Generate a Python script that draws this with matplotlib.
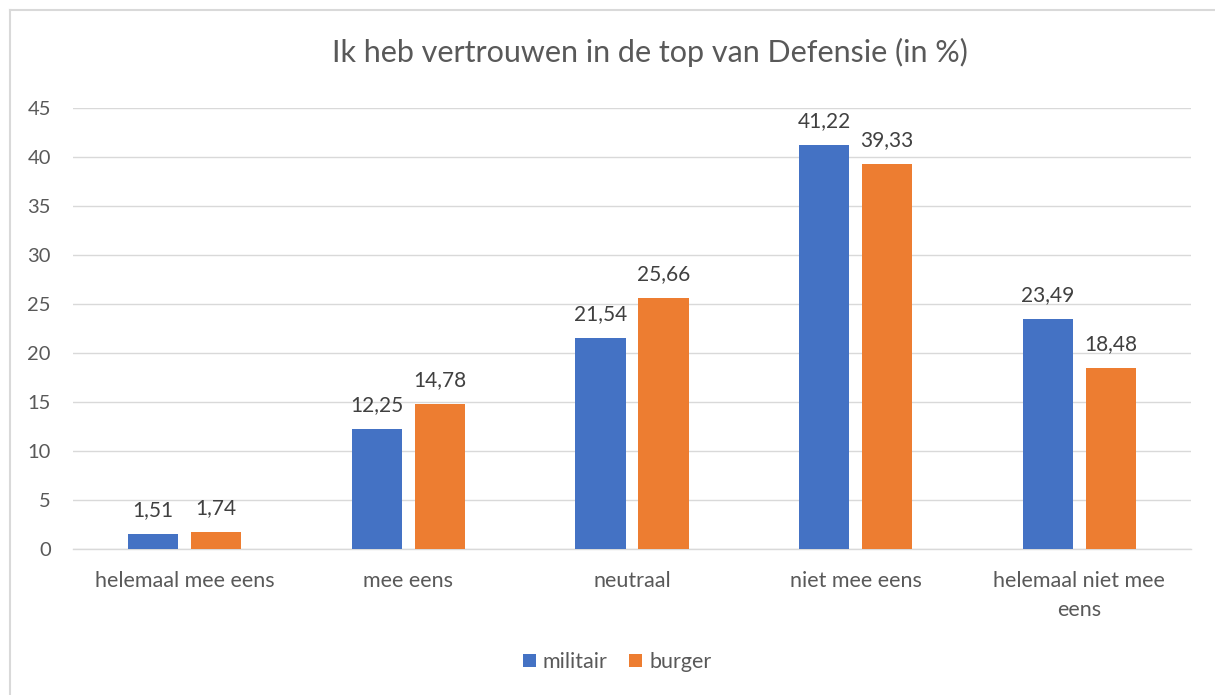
import matplotlib
matplotlib.use("Agg")
import matplotlib.pyplot as plt
from matplotlib.lines import Line2D
import numpy as np

categories = ["helemaal mee eens", "mee eens", "neutraal", "niet mee eens", "helemaal niet mee\neens"]
militair = [1.51, 12.25, 21.54, 41.22, 23.49]
burger = [1.74, 14.78, 25.66, 39.33, 18.48]
series_names = ["militair", "burger"]
yticks = [0, 5, 10, 15, 20, 25, 30, 35, 40, 45]

plt.rcParams['font.family'] = ['Lato', 'DejaVu Sans']

fig = plt.figure(figsize=(12.15, 6.95), dpi=100)
W, H = 1215, 695
ax = fig.add_axes([73 / W, 1 - 549 / H, (1191 - 73) / W, (549 - 108) / H])

x = np.arange(len(categories))
bw = 0.224
off = 0.141
b1 = ax.bar(x - off, militair, bw, color="#4472C4", label=series_names[0], zorder=3)
b2 = ax.bar(x + off, burger, bw, color="#ED7D31", label=series_names[1], zorder=3)

def fmt(v):
    return f"{v:.2f}".replace(".", ",")

for bars, vals in ((b1, militair), (b2, burger)):
    for r, v in zip(bars, vals):
        ax.annotate(fmt(v), (r.get_x() + r.get_width() / 2, v), xytext=(0, 10),
                    textcoords="offset points", ha="center", va="bottom",
                    fontsize=15, color="#404040")

ax.set_xlim(-0.5, len(categories) - 0.5)
ax.set_ylim(0, 45)
ax.set_yticks(yticks)
ax.set_yticklabels([str(t) for t in yticks], fontsize=14.5, color="#595959")
ax.set_xticks(x)
ax.set_xticklabels(categories, fontsize=15.5, color="#595959", linespacing=1.55)
ax.tick_params(axis="x", length=0, pad=16)
ax.tick_params(axis="y", length=0, pad=16)
ax.grid(axis="y", color="#D9D9D9", linewidth=1, zorder=0)
for s in ["top", "right", "left"]:
    ax.spines[s].set_visible(False)
ax.spines["bottom"].set_color("#D9D9D9")
ax.spines["bottom"].set_linewidth(1)
ax.set_axisbelow(True)

fig.text(650 / W, 1 - 52 / H, "Ik heb vertrouwen in de top van Defensie (in %)",
         ha="center", va="center", fontsize=22, color="#595959")

fig.legend(handles=[b1, b2], labels=series_names, loc="center",
           bbox_to_anchor=(617 / W, 1 - 662 / H), ncol=2, frameon=False,
           fontsize=15.5, labelcolor="#595959", handlelength=0.6,
           handleheight=0.6, handletextpad=0.33, columnspacing=1.0)

fig.lines.append(Line2D([9.5 / W, 9.5 / W], [0, 1 - 9.5 / H], transform=fig.transFigure,
                        color="#D9D9D9", linewidth=1.5))
fig.lines.append(Line2D([9.5 / W, 1], [1 - 9.5 / H, 1 - 9.5 / H], transform=fig.transFigure,
                        color="#D9D9D9", linewidth=1.5))

fig.savefig("out.png", dpi=100, facecolor="white")
